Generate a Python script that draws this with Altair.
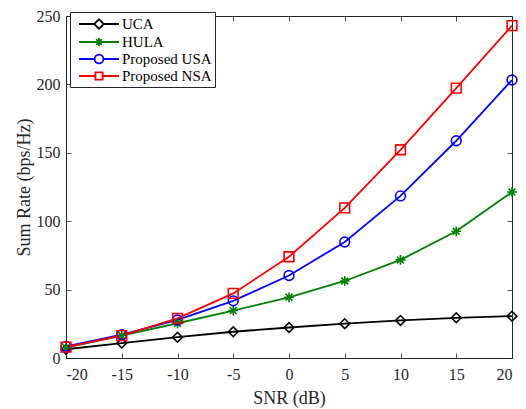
import altair as alt
import pandas as pd

snr = [-20, -15, -10, -5, 0, 5, 10, 15, 20]
uca = [6.4, 10.9, 15.2, 19.2, 22.3, 25.1, 27.5, 29.4, 30.6]
hula = [7.6, 16.4, 25.4, 34.7, 44.4, 56.3, 71.7, 92.6, 121.3]
usa = [8.5, 17.0, 27.8, 41.8, 60.3, 84.8, 118.5, 158.8, 203.2]
nsa = [8.0, 16.4, 29.0, 47.2, 74.0, 109.7, 152.2, 197.3, 243.0]
series = ["UCA", "HULA", "Proposed USA", "Proposed NSA"]
colors = ["#000000", "#008000", "#0000FF", "#FF0000"]
y_ticks = [0, 50, 100, 150, 200, 250]

# marker shapes (Vega symbol paths)
diamond = "M-1,0L0,-1L1,0L0,1Z"
asterisk = "M0,-1V1M-1,0H1M-0.7,-0.7L0.7,0.7M-0.7,0.7L0.7,-0.7"
shapes = [diamond, asterisk, "circle", "square"]

# legend symbols: line + marker
leg_paths = [
    "M-2.5,0H-0.6M0.6,0H2.5M-0.6,0L0,-0.6L0.6,0L0,0.6Z",
    "M-2.5,0H2.5M0,-0.5V0.5M-0.35,-0.35L0.35,0.35M-0.35,0.35L0.35,-0.35",
    "M-2.5,0H-0.55M0.55,0H2.5M0.55,0A0.55,0.55,0,1,1,-0.55,0A0.55,0.55,0,1,1,0.55,0Z",
    "M-2.5,0H-0.45M0.45,0H2.5M-0.45,-0.45H0.45V0.45H-0.45Z",
]

rows = []
for name, vals in zip(series, [uca, hula, usa, nsa]):
    for x, y in zip(snr, vals):
        rows.append({"snr": x, "rate": y, "series": name})
df = pd.DataFrame(rows)

FONT = "Liberation Serif"
AX = "#262626"

xscale = alt.Scale(domain=[-20, 20], nice=False, zero=False)
yscale = alt.Scale(domain=[0, 250], nice=False)
cscale = alt.Scale(domain=series, range=colors)

axis_common = dict(
    domain=False, grid=False, tickColor=AX, tickSize=5, tickWidth=0.8, offset=-5,
    labelFont=FONT, labelFontSize=16, labelColor=AX,
    labelExpr="toString(datum.value)",
    titleFont=FONT, titleFontSize=18, titleColor=AX, titleFontWeight="normal",
)

lines = alt.Chart(df).mark_line(strokeWidth=1.8).encode(
    x=alt.X("snr:Q", scale=xscale,
            axis=alt.Axis(orient="bottom", title="SNR (dB)", values=snr,
                          labelPadding=8, titlePadding=7, **axis_common)),
    y=alt.Y("rate:Q", scale=yscale,
            axis=alt.Axis(orient="left", title="Sum Rate (bps/Hz)",
                          values=y_ticks,
                          labelPadding=6, titlePadding=3, **axis_common)),
    color=alt.Color("series:N", scale=cscale, sort=series, legend=None),
    detail="series:N",
)

points = alt.Chart(df).mark_point(filled=False, strokeWidth=1.6, opacity=1).encode(
    x=alt.X("snr:Q", scale=xscale,
            axis=alt.Axis(orient="top", title=None, labels=False, values=snr,
                          **axis_common)),
    y=alt.Y("rate:Q", scale=yscale,
            axis=alt.Axis(orient="right", title=None, labels=False,
                          values=y_ticks, **axis_common)),
    color=alt.Color("series:N", scale=cscale, sort=series, legend=None),
    shape=alt.Shape("series:N", scale=alt.Scale(domain=series, range=shapes), legend=None),
    size=alt.value(95),
)

leg = dict(
    title=None, orient="none", legendX=4, legendY=-4,
    fillColor="white", strokeColor=AX,
    cornerRadius=0, padding=3,
    labelFont=FONT, labelFontSize=15, labelColor="black",
    symbolSize=256, symbolStrokeWidth=1.8, symbolOpacity=1,
    symbolOffset=17, labelOffset=14, rowPadding=0,
)

legend_layer = alt.Chart(df).transform_filter("false").mark_point(
    filled=False, strokeWidth=1.8
).encode(
    x=alt.X("snr:Q", scale=xscale, axis=None),
    y=alt.Y("rate:Q", scale=yscale, axis=None),
    color=alt.Color("series:N", scale=cscale, sort=series, legend=alt.Legend(**leg)),
    shape=alt.Shape("series:N", sort=series,
                    scale=alt.Scale(domain=series, range=leg_paths),
                    legend=alt.Legend(**leg)),
)

chart = alt.layer(lines, points, legend_layer).resolve_axis(
    x="independent", y="independent"
).resolve_scale(shape="independent").resolve_legend(
    color="independent", shape="independent"
).properties(
    width=446, height=342,
    padding={"left": 58, "top": 8, "right": 6, "bottom": 50},
    autosize=alt.AutoSizeParams(type="none"),
    background="white",
).configure_view(stroke=AX, strokeWidth=1)

chart.save("out.html", embed_options={"renderer": "svg", "actions": False})
